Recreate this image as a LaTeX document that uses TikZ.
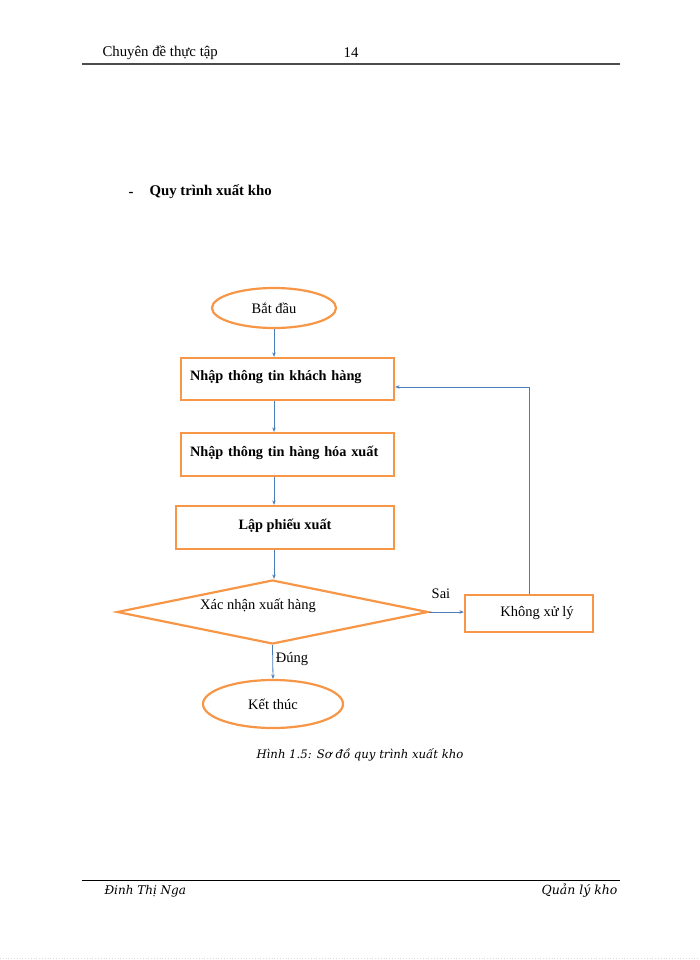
\documentclass[tikz,border=0pt]{standalone}
\usepackage{fontspec}
\setmainfont{Liberation Serif}
\newfontfamily\capfont{DejaVu Serif}
\usetikzlibrary{shapes.geometric,arrows.meta}
\definecolor{boxorange}{HTML}{F79646}
\definecolor{arrowblue}{HTML}{4A7EBB}
\begin{document}
\begin{tikzpicture}[x=1pt, y=-1pt,
    box/.style={draw=boxorange, line width=2.2pt, rectangle, inner sep=0pt},
    term/.style={draw=boxorange, line width=2.2pt, ellipse, inner sep=0pt},
    decide/.style={draw=boxorange, line width=2.2pt, diamond, inner sep=0pt},
    arr/.style={draw=arrowblue, line width=0.8pt, -{Stealth[length=4.5pt,width=3.5pt]}},
    boldtxt/.style={font=\fontsize{14.3}{17}\selectfont\bfseries},
    plaintxt/.style={font=\fontsize{14.5}{17}\selectfont}]
  \useasboundingbox (0,0) rectangle (700,960);
  % header and footer
  \node[anchor=west, font=\fontsize{14.8}{17}\selectfont] (hdr) at (99,53) {Chuyên đề thực tập};
  \node[font=\fontsize{14.8}{17}\selectfont] (pg) at (351,53) {14};
  \draw[gray!60!black, line width=1.5pt] (82,64) -- (620,64);
  \draw[black, line width=0.8pt] (82,880) -- (620,880);
  \node[anchor=west, font=\capfont\fontsize{12}{14}\selectfont\itshape] (auth) at (101,891) {Đinh Thị Nga};
  \node[anchor=east, font=\capfont\fontsize{12.5}{14}\selectfont\itshape] (subj) at (621,891) {Quản lý kho};
  \draw[gray!30, dotted, line width=0.8pt] (0,958) -- (700,958);
  % section title
  \node[font=\fontsize{14.8}{17}\selectfont\bfseries] (dash) at (131,194) {-};
  \node[anchor=west, font=\fontsize{14.8}{17}\selectfont\bfseries] (ttl) at (146,192) {Quy trình xuất kho};
  % flowchart
  \node[term, minimum width=124, minimum height=40, plaintxt] (start) at (274,308) {Bắt đầu};
  \node[box, minimum width=213, minimum height=42, text width=195, align=left, text depth=7pt, boldtxt] (kh) at (287.5,379) {Nhập thông tin khách hàng};
  \node[box, minimum width=213, minimum height=43, text width=195, align=left, text depth=7pt, boldtxt] (hh) at (287.5,454.5) {Nhập thông tin hàng hóa xuất};
  \node[box, minimum width=218, minimum height=43, text depth=6pt, boldtxt] (lp) at (285,527.5) {Lập phiếu xuất};
  \node[decide, minimum width=311, minimum height=64, aspect=4.86] (dec) at (272.5,612) {};
  \node[plaintxt] (dectxt) at (258,606) {Xác nhận xuất hàng};
  \node[box, minimum width=128, minimum height=37, plaintxt] (kxl) at (529,613.5) {\hspace{16pt}Không xử lý};
  \node[term, minimum width=140, minimum height=48, plaintxt] (stop) at (273,704) {Kết thúc};
  % connectors
  \draw[arr] (start.south) -- (start.south |- kh.north);
  \draw[arr] (kh.south -| start.south) -- (hh.north -| start.south);
  \draw[arr] (hh.south -| start.south) -- (lp.north -| start.south);
  \draw[arr] (lp.south -| start.south) -- (dec.north -| start.south);
  \draw[arr] (dec.east) -- (dec.east -| kxl.west);
  \draw[arr] (dec.south) -- (stop.north);
  \draw[arr] (kxl.north) |- ([yshift=-8pt]kh.east);
  \node[plaintxt] (sai) at (441,594) {Sai};
  \node[plaintxt] (dung) at (292,659) {Đúng};
  % caption
  \node[font=\capfont\fontsize{11.7}{14}\selectfont\itshape] (cap) at (360,755) {Hình 1.5: Sơ đồ quy trình xuất kho};
\end{tikzpicture}
\end{document}
